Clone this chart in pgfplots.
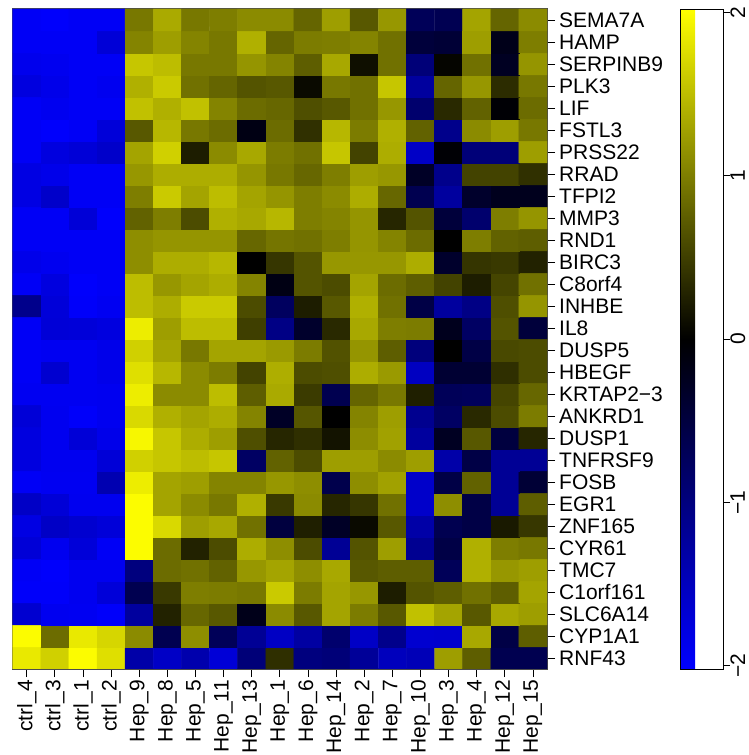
\documentclass[border=0pt]{standalone}
\usepackage{fontspec}
\setmainfont{Liberation Sans}
\usepackage{pgfplots}
\pgfplotsset{compat=1.18}
\newcommand\fs{\fontsize{21}{25}\selectfont}
\begin{document}
\begin{tikzpicture}
\useasboundingbox (0pt,0pt) rectangle (749pt,755pt);
\begin{axis}[
  at={(12.7pt,86pt)}, anchor=south west,
  width=534.3pt, height=660pt, scale only axis,
  xmin=-0.5, xmax=18.5, ymin=-0.5, ymax=29.5,
  enlargelimits=false,
  colormap={bly}{rgb255=(0,0,255) rgb255=(0,0,0) rgb255=(255,255,0)},
  point meta min=-2.02, point meta max=2.02,
  xtick={0,...,18},
  xticklabels={ctrl\_4,ctrl\_3,ctrl\_1,ctrl\_2,Hep\_9,Hep\_8,Hep\_5,Hep\_11,Hep\_13,Hep\_1,Hep\_6,Hep\_14,Hep\_2,Hep\_7,Hep\_10,Hep\_3,Hep\_4,Hep\_12,Hep\_15},
  ytick={0,...,29},
  yticklabels={RNF43,CYP1A1,SLC6A14,C1orf161,TMC7,CYR61,ZNF165,EGR1,FOSB,TNFRSF9,DUSP1,ANKRD1,KRTAP2−3,HBEGF,DUSP5,IL8,INHBE,C8orf4,BIRC3,RND1,MMP3,TFPI2,RRAD,PRSS22,FSTL3,LIF,PLK3,SERPINB9,HAMP,SEMA7A},
  xtick pos=bottom, ytick pos=right,
  xticklabel pos=bottom, yticklabel pos=right,
  tick align=outside, major tick length=8pt,
  tick style={black, line width=0.8pt},
  xticklabel style={rotate=90, anchor=east, font=\fs, inner sep=0pt},
  yticklabel style={anchor=west, font=\fs, inner sep=0pt},
  xticklabel shift=3pt, yticklabel shift=4pt,
  axis line style={line width=1.2pt, draw=black!70},
  colorbar right,
  colorbar style={
    at={(parent axis.north east)}, anchor=north west, xshift=125.3pt,
    width=42.4pt, height=660pt, scale only axis,
    ytick={-2,-1,0,1,2}, yticklabels={−2,−1,0,1,2},
    ytick pos=right, yticklabel pos=right,
    tick align=outside, major tick length=7pt,
    tick style={black, line width=0.8pt},
    yticklabel style={rotate=90, anchor=north, font=\fs, inner sep=0pt},
    yticklabel shift=0pt,
    axis line style={line width=0.8pt, draw=black},
  },
]
\addplot[matrix plot*, mesh/cols=19, point meta=explicit] coordinates {
(0,0)[1.85] (1,0)[1.65] (2,0)[2.0] (3,0)[1.77] (4,0)[-1.33] (5,0)[-1.57] (6,0)[-1.37] (7,0)[-1.7] (8,0)[-0.95] (9,0)[0.37] (10,0)[-1.0] (11,0)[-0.95] (12,0)[-1.2] (13,0)[-1.5] (14,0)[-1.45] (15,0)[1.25] (16,0)[0.75] (17,0)[-0.63] (18,0)[-0.63]
(0,1)[2.0] (1,1)[0.86] (2,1)[1.85] (3,1)[1.7] (4,1)[1.1] (5,1)[-0.63] (6,1)[1.13] (7,1)[-0.7] (8,1)[-1.18] (9,1)[-1.55] (10,1)[-1.28] (11,1)[-0.86] (12,1)[-1.57] (13,1)[-1.1] (14,1)[-1.65] (15,1)[-1.63] (16,1)[1.33] (17,1)[-0.55] (18,1)[0.75]
(0,2)[-1.65] (1,2)[-1.9] (2,2)[-1.92] (3,2)[-1.98] (4,2)[-1.25] (5,2)[0.27] (6,2)[0.82] (7,2)[0.7] (8,2)[-0.2] (9,2)[1.1] (10,2)[0.7] (11,2)[1.3] (12,2)[0.98] (13,2)[0.7] (14,2)[1.53] (15,2)[1.3] (16,2)[0.7] (17,2)[1.33] (18,2)[1.25]
(0,3)[-1.98] (1,3)[-1.98] (2,3)[-1.9] (3,3)[-1.72] (4,3)[-0.63] (5,3)[0.45] (6,3)[1.0] (7,3)[0.98] (8,3)[0.95] (9,3)[1.6] (10,3)[0.98] (11,3)[1.3] (12,3)[1.2] (13,3)[0.23] (14,3)[0.67] (15,3)[0.75] (16,3)[0.9] (17,3)[0.75] (18,3)[1.3]
(0,4)[-1.95] (1,4)[-2.0] (2,4)[-1.9] (3,4)[-1.9] (4,4)[-1.0] (5,4)[0.86] (6,4)[0.9] (7,4)[0.78] (8,4)[1.2] (9,4)[1.3] (10,4)[1.13] (11,4)[1.33] (12,4)[0.7] (13,4)[0.75] (14,4)[0.75] (15,4)[-0.7] (16,4)[1.4] (17,4)[1.2] (18,4)[1.25]
(0,5)[-1.7] (1,5)[-1.9] (2,5)[-1.72] (3,5)[-1.95] (4,5)[2.0] (5,5)[0.86] (6,5)[0.27] (7,5)[0.6] (8,5)[1.37] (9,5)[1.13] (10,5)[0.6] (11,5)[-1.18] (12,5)[0.67] (13,5)[1.25] (14,5)[-1.15] (15,5)[-0.55] (16,5)[1.4] (17,5)[1.0] (18,5)[0.95]
(0,6)[-1.8] (1,6)[-1.57] (2,6)[-1.65] (3,6)[-1.72] (4,6)[2.0] (5,6)[1.72] (6,6)[1.25] (7,6)[1.33] (8,6)[0.9] (9,6)[-0.5] (10,6)[0.25] (11,6)[-0.3] (12,6)[0.08] (13,6)[0.7] (14,6)[-1.32] (15,6)[-0.63] (16,6)[-0.55] (17,6)[0.2] (18,6)[0.44]
(0,7)[-1.57] (1,7)[-1.7] (2,7)[-1.9] (3,7)[-1.9] (4,7)[2.0] (5,7)[1.3] (6,7)[1.1] (7,7)[0.95] (8,7)[1.4] (9,7)[0.45] (10,7)[1.1] (11,7)[0.3] (12,7)[0.43] (13,7)[0.9] (14,7)[-1.6] (15,7)[1.13] (16,7)[-0.55] (17,7)[-1.18] (18,7)[0.75]
(0,8)[-1.95] (1,8)[-1.92] (2,8)[-1.92] (3,8)[-1.4] (4,8)[1.88] (5,8)[1.3] (6,8)[1.25] (7,8)[1.05] (8,8)[1.05] (9,8)[1.2] (10,8)[1.13] (11,8)[-0.6] (12,8)[1.13] (13,8)[1.28] (14,8)[-1.6] (15,8)[-0.55] (16,8)[0.78] (17,8)[-1.18] (18,8)[-0.43]
(0,9)[-1.77] (1,9)[-1.9] (2,9)[-1.9] (3,9)[-1.7] (4,9)[1.65] (5,9)[1.57] (6,9)[1.5] (7,9)[1.57] (8,9)[-0.78] (9,9)[0.78] (10,9)[0.6] (11,9)[1.25] (12,9)[1.25] (13,9)[1.1] (14,9)[1.25] (15,9)[-1.33] (16,9)[-0.55] (17,9)[-1.18] (18,9)[-1.18]
(0,10)[-1.77] (1,10)[-1.9] (2,10)[-1.7] (3,10)[-1.85] (4,10)[1.96] (5,10)[1.57] (6,10)[1.37] (7,10)[1.25] (8,10)[0.63] (9,10)[0.3] (10,10)[0.37] (11,10)[0.15] (12,10)[1.12] (13,10)[1.28] (14,10)[-1.25] (15,10)[-0.27] (16,10)[0.7] (17,10)[-0.5] (18,10)[0.3]
(0,11)[-1.7] (1,11)[-1.9] (2,11)[-1.98] (3,11)[-1.9] (4,11)[1.72] (5,11)[1.4] (6,11)[1.3] (7,11)[1.37] (8,11)[1.05] (9,11)[-0.3] (10,11)[0.68] (11,11)[0.0] (12,11)[1.05] (13,11)[1.25] (14,11)[-1.13] (15,11)[-0.78] (16,11)[0.33] (17,11)[0.6] (18,11)[0.98]
(0,12)[-1.92] (1,12)[-1.92] (2,12)[-1.92] (3,12)[-1.9] (4,12)[1.88] (5,12)[1.1] (6,12)[1.1] (7,12)[1.5] (8,12)[0.75] (9,12)[1.35] (10,12)[0.47] (11,12)[-0.63] (12,12)[0.8] (13,12)[0.95] (14,12)[0.25] (15,12)[-0.7] (16,12)[-0.72] (17,12)[0.55] (18,12)[0.82]
(0,13)[-1.95] (1,13)[-1.65] (2,13)[-1.92] (3,13)[-1.85] (4,13)[1.77] (5,13)[1.45] (6,13)[1.1] (7,13)[0.98] (8,13)[0.53] (9,13)[1.38] (10,13)[0.6] (11,13)[0.63] (12,13)[1.37] (13,13)[1.22] (14,13)[-1.53] (15,13)[-0.4] (16,13)[-0.4] (17,13)[0.37] (18,13)[0.6]
(0,14)[-1.95] (1,14)[-1.92] (2,14)[-1.92] (3,14)[-1.85] (4,14)[1.65] (5,14)[1.3] (6,14)[0.95] (7,14)[1.3] (8,14)[1.3] (9,14)[1.22] (10,14)[0.98] (11,14)[0.65] (12,14)[1.18] (13,14)[0.75] (14,14)[-0.98] (15,14)[0.0] (16,14)[-0.55] (17,14)[0.58] (18,14)[0.6]
(0,15)[-1.95] (1,15)[-1.7] (2,15)[-1.72] (3,15)[-1.77] (4,15)[1.88] (5,15)[1.25] (6,15)[1.5] (7,15)[1.5] (8,15)[0.5] (9,15)[-1.05] (10,15)[-0.35] (11,15)[0.33] (12,15)[1.33] (13,15)[1.0] (14,15)[0.98] (15,15)[-0.23] (16,15)[-0.78] (17,15)[0.67] (18,15)[-0.47]
(0,16)[-1.1] (1,16)[-1.72] (2,16)[-1.98] (3,16)[-1.92] (4,16)[1.5] (5,16)[1.37] (6,16)[1.6] (7,16)[1.6] (8,16)[0.6] (9,16)[-0.75] (10,16)[0.23] (11,16)[0.7] (12,16)[1.4] (13,16)[0.9] (14,16)[-0.55] (15,16)[-1.25] (16,16)[-1.05] (17,16)[0.63] (18,16)[1.18]
(0,17)[-1.95] (1,17)[-1.77] (2,17)[-2.0] (3,17)[-1.95] (4,17)[1.5] (5,17)[1.2] (6,17)[1.3] (7,17)[1.37] (8,17)[1.05] (9,17)[-0.15] (10,17)[0.67] (11,17)[0.6] (12,17)[1.3] (13,17)[0.86] (14,17)[0.75] (15,17)[0.53] (16,17)[0.23] (17,17)[0.55] (18,17)[0.9]
(0,18)[-1.85] (1,18)[-1.9] (2,18)[-1.95] (3,18)[-1.95] (4,18)[1.13] (5,18)[1.37] (6,18)[1.37] (7,18)[1.45] (8,18)[0.0] (9,18)[0.43] (10,18)[0.67] (11,18)[1.2] (12,18)[1.2] (13,18)[1.2] (14,18)[1.37] (15,18)[-0.35] (16,18)[0.42] (17,18)[0.45] (18,18)[0.27]
(0,19)[-1.95] (1,19)[-1.95] (2,19)[-1.95] (3,19)[-1.95] (4,19)[1.13] (5,19)[1.18] (6,19)[1.18] (7,19)[1.18] (8,19)[0.82] (9,19)[0.93] (10,19)[0.9] (11,19)[1.0] (12,19)[1.18] (13,19)[1.05] (14,19)[0.86] (15,19)[0.0] (16,19)[1.0] (17,19)[0.78] (18,19)[0.75]
(0,20)[-1.95] (1,20)[-1.95] (2,20)[-1.7] (3,20)[-2.0] (4,20)[0.78] (5,20)[1.0] (6,20)[0.6] (7,20)[1.4] (8,20)[1.33] (9,20)[1.45] (10,20)[1.0] (11,20)[1.05] (12,20)[1.18] (13,20)[0.3] (14,20)[0.67] (15,20)[-0.47] (16,20)[-0.86] (17,20)[1.0] (18,20)[1.18]
(0,21)[-1.8] (1,21)[-1.6] (2,21)[-1.95] (3,21)[-1.95] (4,21)[1.0] (5,21)[1.6] (6,21)[1.3] (7,21)[1.5] (8,21)[1.3] (9,21)[1.18] (10,21)[1.0] (11,21)[1.1] (12,21)[1.37] (13,21)[0.82] (14,21)[-0.63] (15,21)[-1.25] (16,21)[-0.35] (17,21)[-0.23] (18,21)[-0.23]
(0,22)[-1.8] (1,22)[-1.85] (2,22)[-1.95] (3,22)[-1.95] (4,22)[1.2] (5,22)[1.37] (6,22)[1.37] (7,22)[1.37] (8,22)[1.18] (9,22)[0.95] (10,22)[0.82] (11,22)[1.0] (12,22)[1.25] (13,22)[1.2] (14,22)[-0.3] (15,22)[-1.1] (16,22)[0.53] (17,22)[0.53] (18,22)[0.38]
(0,23)[-1.95] (1,23)[-1.77] (2,23)[-1.7] (3,23)[-1.6] (4,23)[1.3] (5,23)[1.65] (6,23)[0.23] (7,23)[1.1] (8,23)[1.33] (9,23)[0.98] (10,23)[0.9] (11,23)[1.57] (12,23)[0.53] (13,23)[1.37] (14,23)[-1.57] (15,23)[-0.04] (16,23)[-0.95] (17,23)[-0.95] (18,23)[1.25]
(0,24)[-1.95] (1,24)[-2.0] (2,24)[-1.95] (3,24)[-1.72] (4,24)[0.7] (5,24)[1.45] (6,24)[0.95] (7,24)[0.86] (8,24)[-0.15] (9,24)[0.86] (10,24)[0.38] (11,24)[1.45] (12,24)[0.98] (13,24)[1.4] (14,24)[0.78] (15,24)[-1.1] (16,24)[1.1] (17,24)[1.25] (18,24)[0.95]
(0,25)[-1.95] (1,25)[-1.9] (2,25)[-1.95] (3,25)[-1.95] (4,25)[1.53] (5,25)[1.4] (6,25)[1.53] (7,25)[1.05] (8,25)[0.86] (9,25)[0.82] (10,25)[0.63] (11,25)[0.7] (12,25)[0.9] (13,25)[1.2] (14,25)[-0.86] (15,25)[0.33] (16,25)[0.78] (17,25)[-0.04] (18,25)[0.86]
(0,26)[-1.77] (1,26)[-1.85] (2,26)[-1.95] (3,26)[-1.9] (4,26)[1.4] (5,26)[1.6] (6,26)[0.9] (7,26)[0.8] (8,26)[0.67] (9,26)[0.7] (10,26)[0.08] (11,26)[0.95] (12,26)[0.9] (13,26)[1.57] (14,26)[-1.25] (15,26)[0.8] (16,26)[1.2] (17,26)[0.35] (18,26)[0.95]
(0,27)[-1.88] (1,27)[-1.9] (2,27)[-1.95] (3,27)[-1.95] (4,27)[1.57] (5,27)[1.5] (6,27)[0.95] (7,27)[0.95] (8,27)[1.18] (9,27)[1.05] (10,27)[0.75] (11,27)[1.33] (12,27)[0.12] (13,27)[0.9] (14,27)[-0.95] (15,27)[0.04] (16,27)[0.9] (17,27)[-0.27] (18,27)[1.18]
(0,28)[-1.95] (1,28)[-1.95] (2,28)[-1.95] (3,28)[-1.7] (4,28)[1.05] (5,28)[1.25] (6,28)[1.05] (7,28)[0.95] (8,28)[1.4] (9,28)[0.8] (10,28)[0.98] (11,28)[1.0] (12,28)[1.05] (13,28)[0.9] (14,28)[-0.47] (15,28)[-0.43] (16,28)[1.25] (17,28)[-0.2] (18,28)[1.0]
(0,29)[-1.95] (1,29)[-2.0] (2,29)[-1.95] (3,29)[-1.95] (4,29)[0.95] (5,29)[1.35] (6,29)[0.95] (7,29)[1.0] (8,29)[1.1] (9,29)[1.1] (10,29)[0.8] (11,29)[1.25] (12,29)[0.7] (13,29)[1.2] (14,29)[-0.7] (15,29)[-0.65] (16,29)[1.3] (17,29)[0.8] (18,29)[1.1]
};
\end{axis}
\end{tikzpicture}
\end{document}
